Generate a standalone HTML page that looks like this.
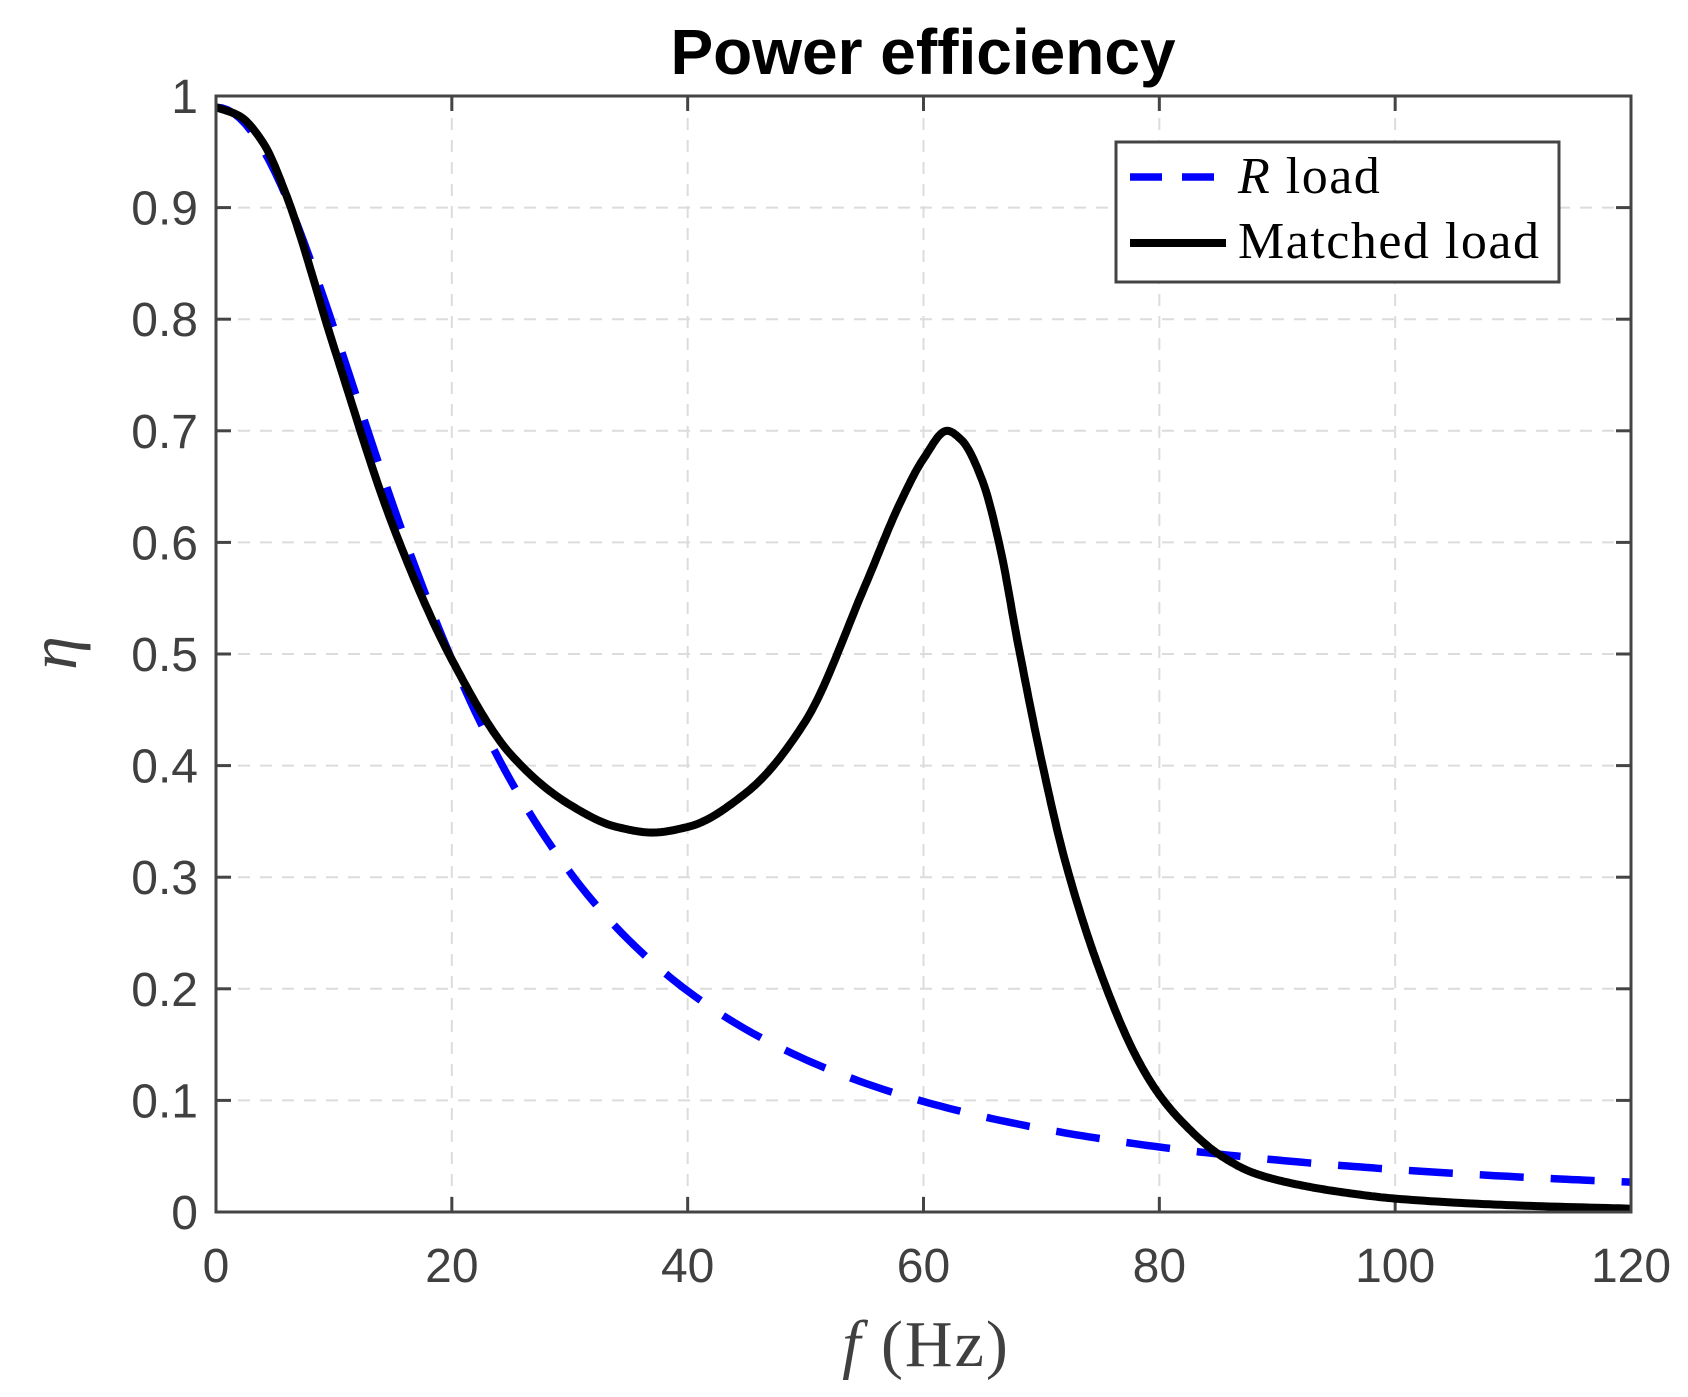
<!DOCTYPE html>
<html><head><meta charset="utf-8"><style>body{margin:0;background:#fff}svg{display:block}</style></head>
<body>
<svg id="s" width="1688" height="1397" xmlns="http://www.w3.org/2000/svg">
<rect width="1688" height="1397" fill="#fff"/>
<g id="grid" stroke="#dcdcdc" stroke-width="2" stroke-dasharray="12,10"></g>
<g id="ticks" stroke="#444" stroke-width="3"></g>
<g id="labels" font-family="Liberation Sans, sans-serif" font-size="48" fill="#404040"></g>
<path id="blue" fill="none" stroke="#0000ff" stroke-width="7.5" stroke-dasharray="44,27"/>
<path id="black" fill="none" stroke="#000" stroke-width="8" stroke-linejoin="round"/>
<rect x="216" y="96" width="1415" height="1116" fill="none" stroke="#444" stroke-width="3"/>
<text x="923" y="74" text-anchor="middle" font-family="Liberation Sans, sans-serif" font-weight="bold" font-size="64" fill="#000">Power efficiency</text>
<text x="926" y="1366" text-anchor="middle" font-family="Liberation Serif, serif" font-size="66" fill="#404040" letter-spacing="2"><tspan font-style="italic">f</tspan>  (Hz)</text>
<text transform="translate(76,653) rotate(-90)" text-anchor="middle" font-family="Liberation Serif, serif" font-style="italic" font-size="68" fill="#404040">η</text>
<rect x="1116" y="142" width="443" height="140" fill="#fff" stroke="#444" stroke-width="3"/>
<line x1="1130" y1="177" x2="1226" y2="177" stroke="#0000ff" stroke-width="7.5" stroke-dasharray="32,20"/>
<line x1="1130" y1="243" x2="1226" y2="243" stroke="#000" stroke-width="8"/>
<text x="1238" y="193" font-family="Liberation Serif, serif" font-size="52" fill="#000" letter-spacing="1.5"><tspan font-style="italic">R</tspan> load</text>
<text x="1238" y="258" font-family="Liberation Serif, serif" font-size="52" fill="#000" letter-spacing="1.5">Matched load</text>
</svg>
<script>
const X=f=>216+f*1415/120, Y=v=>1212-v*1116;
const ns="http://www.w3.org/2000/svg";
function el(p,t,a,txt){const e=document.createElementNS(ns,t);for(const k in a)e.setAttribute(k,a[k]);if(txt!=null)e.textContent=txt;document.getElementById(p).appendChild(e);}
for(let f=20;f<120;f+=20)el("grid","line",{x1:X(f),y1:96,x2:X(f),y2:1212});
for(let i=1;i<10;i++)el("grid","line",{x1:216,y1:Y(i/10),x2:1631,y2:Y(i/10)});
for(let f=0;f<=120;f+=20){el("ticks","line",{x1:X(f),y1:1212,x2:X(f),y2:1197});el("ticks","line",{x1:X(f),y1:96,x2:X(f),y2:111});
 el("labels","text",{x:X(f),y:1282,"text-anchor":"middle"},String(f));}
for(let i=0;i<=10;i++){const v=i/10;el("ticks","line",{x1:216,y1:Y(v),x2:231,y2:Y(v)});el("ticks","line",{x1:1631,y1:Y(v),x2:1616,y2:Y(v)});
 el("labels","text",{x:198,y:Y(v)+17,"text-anchor":"end"},i==0?"0":i==10?"1":"0."+i);}
let d="";for(let f=0;f<=120;f+=0.5){const v=0.99/(1+(f/20)**2);d+=(f?"L":"M")+X(f).toFixed(1)+","+Y(v).toFixed(1);}
document.getElementById("blue").setAttribute("d",d);
const P=[[0,0.99],[2,0.982],[4,0.958],[6,0.91],[10,0.775],[15,0.615],[20,0.495],[25,0.41],[30,0.365],[34,0.345],[37,0.34],[40,0.345],[45,0.376],[50,0.44],[55,0.56],[58,0.635],[60,0.675],[62,0.70],[63.2,0.692],[65,0.655],[66.5,0.595],[68,0.51],[70,0.405],[72,0.315],[75,0.215],[78,0.14],[80,0.105],[82,0.08],[85,0.052],[88,0.035],[92,0.024],[96,0.017],[100,0.012],[110,0.006],[120,0.003]];
const n=P.length,xs=P.map(p=>p[0]),ys=P.map(p=>p[1]);const dl=[],m=[];
for(let i=0;i<n-1;i++)dl.push((ys[i+1]-ys[i])/(xs[i+1]-xs[i]));
m[0]=dl[0];m[n-1]=dl[n-2];
for(let i=1;i<n-1;i++){if(dl[i-1]*dl[i]<=0)m[i]=0;else{const h0=xs[i]-xs[i-1],h1=xs[i+1]-xs[i];const w1=2*h1+h0,w2=h1+2*h0;m[i]=(w1+w2)/(w1/dl[i-1]+w2/dl[i]);}}
let e="";
for(let i=0;i<n-1;i++){const h=xs[i+1]-xs[i];for(let k=0;k<20;k++){const t=k/20,f=xs[i]+t*h;
 const h00=2*t**3-3*t*t+1,h10=t**3-2*t*t+t,h01=-2*t**3+3*t*t,h11=t**3-t*t;
 const v=h00*ys[i]+h10*h*m[i]+h01*ys[i+1]+h11*h*m[i+1];e+=(e?"L":"M")+X(f).toFixed(1)+","+Y(v).toFixed(1);}}
e+="L"+X(120).toFixed(1)+","+Y(0.003).toFixed(1);
document.getElementById("black").setAttribute("d",e);
</script>
</body></html>
